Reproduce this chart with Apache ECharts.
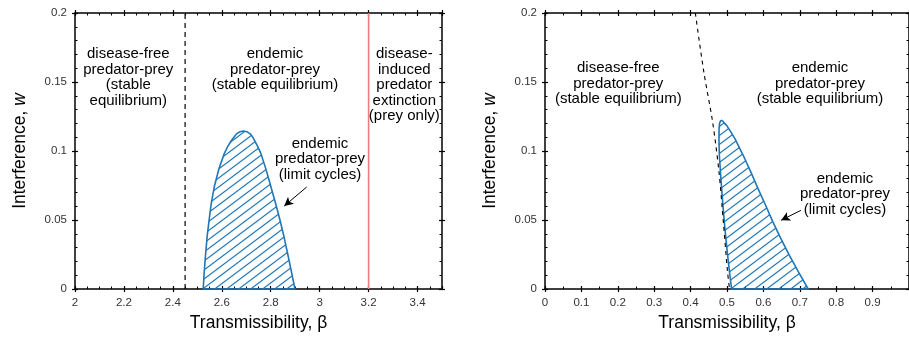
<!DOCTYPE html>
<html>
<head>
<meta charset="utf-8">
<script src="https://cdn.jsdelivr.net/npm/echarts@6/dist/echarts.min.js"></script>
<style>
html,body{margin:0;padding:0;background:#fff;}
#c{width:909px;height:337px;}
</style>
</head>
<body>
<div id="c"></div>
<script>
// ---------- data ----------
// Left panel: limit-cycle region outline (beta, w)
const leftRegionBeta = [2.524, 2.528, 2.534, 2.540, 2.548, 2.557, 2.569, 2.588, 2.610, 2.625, 2.640, 2.652, 2.661, 2.675, 2.688, 2.702, 2.715, 2.725, 2.733, 2.746, 2.760, 2.781, 2.801, 2.820, 2.838, 2.854, 2.869, 2.884, 2.899];
const leftRegionW    = [0.000, 0.012, 0.0257, 0.038, 0.0498, 0.062, 0.0739, 0.087, 0.0981, 0.1035, 0.1078, 0.1105, 0.1126, 0.1140, 0.1145, 0.1140, 0.1126, 0.1105, 0.1078, 0.1035, 0.0981, 0.0865, 0.0739, 0.062, 0.0498, 0.038, 0.0257, 0.013, 0.000];
// Left panel boundaries
const leftDiseaseFreeBeta = 2.45;
const leftExtinctionBeta = 3.2;
// Right panel: limit-cycle region outline
const rightRegionBeta = [0.5126, 0.5070, 0.5017, 0.4970, 0.4926, 0.4888, 0.4853, 0.4820, 0.4790, 0.4780, 0.4782, 0.4795, 0.4820, 0.4853, 0.4890, 0.4935, 0.4990, 0.5100, 0.5217, 0.5444, 0.5650, 0.5852, 0.6060, 0.6260, 0.6480, 0.6714, 0.6970, 0.7230];
const rightRegionW    = [0.000, 0.012, 0.0244, 0.0365, 0.0486, 0.0607, 0.0727, 0.0848, 0.0969, 0.1065, 0.1162, 0.1200, 0.1218, 0.1222, 0.1215, 0.1200, 0.1186, 0.1140, 0.1090, 0.0969, 0.0850, 0.0727, 0.0607, 0.0486, 0.0365, 0.0244, 0.012, 0.000];
// Right panel: disease-free boundary (dashed)
const rightBoundaryBeta = [0.413, 0.4365, 0.4605, 0.4780, 0.4900, 0.5015, 0.5070];
const rightBoundaryW    = [0.200, 0.157, 0.121, 0.0848, 0.0486, 0.0123, 0.000];
// Axis ticks
const leftXTicks = {min: 2, max: 3.5, interval: 0.2, minor: 4};
const rightXTicks = {min: 0, max: 1, interval: 0.1, minor: 2};
const yTicks = {min: 0, max: 0.2, interval: 0.05, minor: 5};

// ---------- styles ----------
const BLUE = '#1f77b7';
const RED = '#ef7d7d';
const FONT = '"Liberation Sans", Arial, Helvetica, sans-serif';

// hatch pattern
const pc = document.createElement('canvas');
pc.width = 12; pc.height = 9;
const pctx = pc.getContext('2d');
pctx.strokeStyle = BLUE;
pctx.lineWidth = 1.15;
for (const dx of [-12, 0, 12]) {
  for (const dy of [-9, 0, 9]) {
    pctx.beginPath();
    pctx.moveTo(dx + 0, dy + 9);
    pctx.lineTo(dx + 12, dy + 0);
    pctx.stroke();
  }
}

function zip(a, b) { return a.map((v, i) => [v, b[i]]); }

const grids = [
  {left: 75, top: 13, width: 367, height: 276},
  {left: 545, top: 13, width: 367, height: 276}
];

function xAxes(g, t) {
  const base = {gridIndex: g, type: 'value', min: t.min, max: t.max, interval: t.interval,
    splitLine: {show: false}};
  const line = {show: true, onZero: false, lineStyle: {color: '#000', width: 1.5}};
  return [
    Object.assign({}, base, {position: 'bottom', axisLine: line,
      axisTick: {show: true, inside: false, length: 3, lineStyle: {color: '#000', width: 1.2}},
      axisLabel: {show: true, color: '#333', fontSize: 11.5, fontFamily: FONT, margin: 8, showMaxLabel: false},
      name: 'Transmissibility, β', nameLocation: 'middle', nameGap: 23,
      nameTextStyle: {fontSize: 17.5, fontFamily: FONT, color: '#000'}}),
    Object.assign({}, base, {position: 'top', axisLine: line,
      axisTick: {show: true, inside: false, length: 3, lineStyle: {color: '#000', width: 1.2}},
      axisLabel: {show: false}}),
    Object.assign({}, base, {position: 'top', axisLine: {show: false, onZero: false},
      axisTick: {show: true, inside: true, length: 3, lineStyle: {color: '#000', width: 1.2}},
      minorTick: {show: true, splitNumber: t.minor, length: 2.5, lineStyle: {color: '#000', width: 1}},
      axisLabel: {show: false}}),
    Object.assign({}, base, {position: 'bottom', axisLine: {show: false, onZero: false},
      axisTick: {show: true, inside: true, length: 3, lineStyle: {color: '#000', width: 1.2}},
      minorTick: {show: true, splitNumber: t.minor, length: 2.5, lineStyle: {color: '#000', width: 1}},
      axisLabel: {show: false}})
  ];
}
function yAxes(g, t) {
  const base = {gridIndex: g, type: 'value', min: t.min, max: t.max, interval: t.interval,
    splitLine: {show: false}};
  const line = {show: true, onZero: false, lineStyle: {color: '#000', width: 1.5}};
  return [
    Object.assign({}, base, {position: 'left', axisLine: line,
      axisTick: {show: true, inside: false, length: 3, lineStyle: {color: '#000', width: 1.2}},
      axisLabel: {show: true, color: '#333', fontSize: 11.5, fontFamily: FONT, margin: 8},
      name: 'Interference, {it|w}', nameLocation: 'middle', nameGap: 46,
      nameTextStyle: {fontSize: 17.5, fontFamily: FONT, color: '#000',
        rich: {it: {fontSize: 17.5, fontFamily: FONT, fontStyle: 'italic', color: '#000'}}}}),
    Object.assign({}, base, {position: 'right', axisLine: line,
      axisTick: {show: true, inside: false, length: 3, lineStyle: {color: '#000', width: 1.2}},
      axisLabel: {show: false}}),
    Object.assign({}, base, {position: 'right', axisLine: {show: false, onZero: false},
      axisTick: {show: true, inside: true, length: 3, lineStyle: {color: '#000', width: 1.2}},
      minorTick: {show: true, splitNumber: t.minor, length: 2.5, lineStyle: {color: '#000', width: 1}},
      axisLabel: {show: false}}),
    Object.assign({}, base, {position: 'left', axisLine: {show: false, onZero: false},
      axisTick: {show: true, inside: true, length: 3, lineStyle: {color: '#000', width: 1.2}},
      minorTick: {show: true, splitNumber: t.minor, length: 2.5, lineStyle: {color: '#000', width: 1}},
      axisLabel: {show: false}})
  ];
}

function regionSeries(xi, yi, pts) {
  return {
    type: 'custom', xAxisIndex: xi, yAxisIndex: yi, coordinateSystem: 'cartesian2d',
    data: pts, silent: true, z: 3,
    renderItem: function (params, api) {
      if (params.dataIndex !== 0) return null;
      const points = pts.map(p => api.coord(p));
      return {
        type: 'polygon',
        shape: {points: points},
        style: {fill: {image: pc, repeat: 'repeat'}, stroke: BLUE, lineWidth: 1.6, lineJoin: 'round'}
      };
    }
  };
}

function textBlock(lines, x, yTop) {
  return {type: 'text', x: x, y: yTop, z: 50, style: {
    text: lines.join('\n'), fill: '#000', fontSize: 15, fontFamily: FONT,
    align: 'center', verticalAlign: 'top', lineHeight: 15.4}};
}

const chart = echarts.init(document.getElementById('c'), null, {renderer: 'canvas'});
chart.setOption({
  animation: false,
  backgroundColor: '#fff',
  grid: grids,
  xAxis: xAxes(0, leftXTicks).concat(xAxes(1, rightXTicks)),
  yAxis: yAxes(0, yTicks).concat(yAxes(1, yTicks)),
  series: [
    regionSeries(0, 0, zip(leftRegionBeta, leftRegionW)),
    {type: 'line', xAxisIndex: 0, yAxisIndex: 0, silent: true, symbol: 'none',
      data: [[leftDiseaseFreeBeta, yTicks.min], [leftDiseaseFreeBeta, yTicks.max]],
      lineStyle: {color: '#000', width: 1.2, type: [5, 4]}},
    {type: 'line', xAxisIndex: 0, yAxisIndex: 0, silent: true, symbol: 'none',
      data: [[leftExtinctionBeta, yTicks.min], [leftExtinctionBeta, yTicks.max]],
      lineStyle: {color: RED, width: 1.6}},
    {type: 'line', xAxisIndex: 0, yAxisIndex: 0, silent: true, symbol: 'none', data: [],
      markLine: {silent: true, symbol: ['none', 'arrow'], symbolSize: [7, 9],
        lineStyle: {color: '#000', width: 1, type: 'solid'}, label: {show: false},
        data: [[{coord: [2.947, 0.0739]}, {coord: [2.855, 0.0601]}]]}},
    regionSeries(4, 4, zip(rightRegionBeta, rightRegionW)),
    {type: 'line', xAxisIndex: 4, yAxisIndex: 4, silent: true, symbol: 'none', smooth: 0.3, z: 4,
      data: zip(rightBoundaryBeta, rightBoundaryW),
      lineStyle: {color: '#000', width: 1.1, type: [4, 4]}},
    {type: 'line', xAxisIndex: 4, yAxisIndex: 4, silent: true, symbol: 'none', data: [],
      markLine: {silent: true, symbol: ['none', 'arrow'], symbolSize: [7, 9],
        lineStyle: {color: '#000', width: 1, type: 'solid'}, label: {show: false},
        data: [[{coord: [0.703, 0.057]}, {coord: [0.6486, 0.0498]}]]}}
  ],
  graphic: [
    textBlock(['disease-free', 'predator-prey', '(stable', 'equilibrium)'], 128.3, 46.5),
    textBlock(['endemic', 'predator-prey', '(stable equilibrium)'], 275, 46.5),
    textBlock(['disease-', 'induced', 'predator', 'extinction', '(prey only)'], 404.3, 46.5),
    textBlock(['endemic', 'predator-prey', '(limit cycles)'], 320, 136),
    textBlock(['disease-free', 'predator-prey', '(stable equilibrium)'], 618.3, 60.5),
    textBlock(['endemic', 'predator-prey', '(stable equilibrium)'], 820, 60.5),
    textBlock(['endemic', 'predator-prey', '(limit cycles)'], 845, 171)
  ]
});
</script>
</body>
</html>
